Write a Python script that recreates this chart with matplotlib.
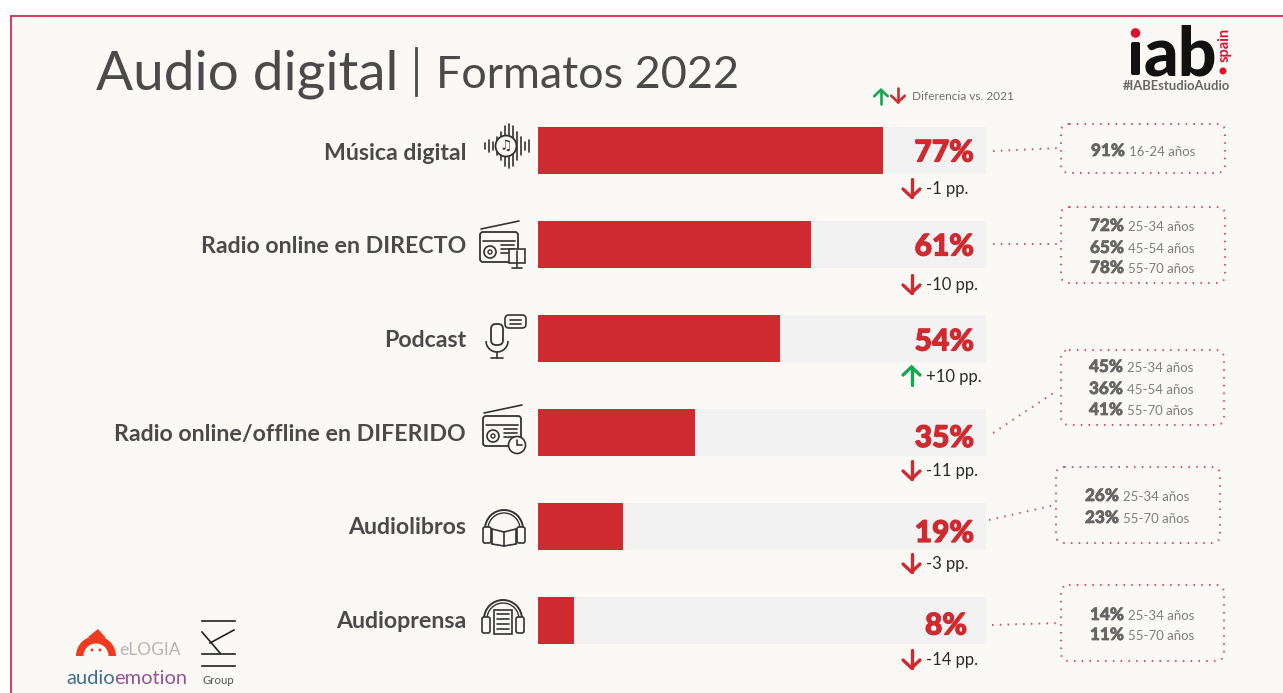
import matplotlib
matplotlib.use("Agg")
import matplotlib.pyplot as plt
import matplotlib.patheffects as pe
from matplotlib.patches import Rectangle, FancyBboxPatch, Circle, Polygon, Wedge, Arc

categories = ["Música digital", "Radio online en DIRECTO", "Podcast",
              "Radio online/offline en DIFERIDO", "Audiolibros", "Audioprensa"]
values = [77, 61, 54, 35, 19, 8]
deltas = [-1, -10, 10, -11, -3, -14]
age_values = [[91], [72, 65, 78], [45, 36, 41], [26, 23], [14, 11]]
age_labels = [["16-24 años"], ["25-34 años", "45-54 años", "55-70 años"],
              ["25-34 años", "45-54 años", "55-70 años"],
              ["25-34 años", "55-70 años"], ["25-34 años", "55-70 años"]]

W, H = 1283, 693
RED = "#CE2A30"
GREEN = "#12A84F"
TRACK = "#F2F2F3"
BG = "#FBF9F6"
PINK = "#DC4A68"
GREY = "#6F6F6F"
DARK = "#4A4A4A"
FONT = "Lato"
plt.rcParams["font.family"] = [FONT, "DejaVu Sans"]

fig = plt.figure(figsize=(W / 100, H / 100), dpi=100, facecolor="white")

ov = fig.add_axes([0, 0, 1, 1], zorder=1)
ov.set_xlim(0, W); ov.set_ylim(H, 0); ov.axis("off")
ov.add_patch(Rectangle((10.5, 15.5), W, H, fc=BG, ec="#D9274F", lw=1.3))

ax = fig.add_axes([538 / W, (H - 667.5) / H, 448 / W, 564 / H], zorder=2)
ax.patch.set_alpha(0)
ax.set_xlim(0, 100); ax.set_ylim(5.5, -0.5); ax.axis("off")
ypos = list(range(len(categories)))
ax.barh(ypos, [100] * len(values), height=0.5, color=TRACK)
ax.barh(ypos, values, height=0.5, color=RED)

top = fig.add_axes([0, 0, 1, 1], zorder=3)
top.patch.set_alpha(0)
top.set_xlim(0, W); top.set_ylim(H, 0); top.axis("off")
t = top.text

t(96, 74, "Audio digital", fontsize=39.5, color=DARK, weight="normal", va="center", ha="left")
top.plot([415.5, 415.5], [48, 95], color=DARK, lw=2.0)
t(436, 76, "Formatos 2022", fontsize=32.3, color=DARK, weight="normal", va="center", ha="left")

label_y = [153.5, 246.5, 340.5, 434.5, 527.5, 621.5]
pct_y = [152.5, 246.5, 341.5, 438, 533, 625.5]
pct_right = [974, 974, 974, 974, 974, 967]
delta_y = [188, 284, 376, 470, 563, 659]


def arrow(x, y, up, color, s=1.0, lw=2.4):
    d = -1 if up else 1
    top.plot([x, x], [y - d * 9 * s, y + d * 9 * s], color=color, lw=lw, solid_capstyle="round")
    top.plot([x - 8.5 * s, x, x + 8.5 * s], [y + d * 1 * s, y + d * 9 * s, y + d * 1 * s],
             color=color, lw=lw, solid_capstyle="round", solid_joinstyle="miter")


heavy = [pe.withStroke(linewidth=0.9, foreground=RED)]
for i, c in enumerate(categories):
    t(466, label_y[i], c, fontsize=16.7, weight="bold", color=DARK, ha="right", va="center")
    t(pct_right[i], pct_y[i], f"{values[i]}%", fontsize=21.5, weight="black", color=RED,
      ha="right", va="center", path_effects=heavy)
    arrow(911.5, delta_y[i], deltas[i] > 0, GREEN if deltas[i] > 0 else RED)
    t(926, delta_y[i] + 1, f"{deltas[i]:+d} pp.", fontsize=12, color="#2B2B2B", ha="left", va="center")

arrow(881, 97, True, GREEN, s=0.8, lw=1.9)
arrow(898, 95, False, RED, s=0.8, lw=1.9)
t(912, 96, "Diferencia vs. 2021", fontsize=8.6, color=GREY, ha="left", va="center")

boxes = [(1061, 124, 164, 49), (1061, 207, 164, 76), (1061, 350, 163, 75),
         (1056, 467, 164, 76), (1061, 585, 163, 76)]
links = [((993, 151), (1060, 148)), ((993, 244), (1060, 244)), ((993, 433), (1058, 390)),
         ((989, 520), (1055, 505)), ((992, 625), (1060, 623))]
text_x = [1091, 1090, 1089, 1085, 1090]
text_y = [[151], [226, 248, 268], [367, 389, 410], [496, 518], [615, 635]]
grey_heavy = [pe.withStroke(linewidth=0.5, foreground="#666666")]
for b, lk, vals, labs, tx, tys in zip(boxes, links, age_values, age_labels, text_x, text_y):
    x, y, w, h = b
    top.add_patch(FancyBboxPatch((x + 8, y + 8), w - 16, h - 16,
                                 boxstyle="round,pad=8,rounding_size=8", fc="none", ec=PINK,
                                 lw=1.4, ls=(0, (0.8, 3.2))))
    top.plot([lk[0][0], lk[1][0]], [lk[0][1], lk[1][1]], color=PINK, lw=1.4,
             ls=(0, (0.8, 3.2)))
    for v, l, yy in zip(vals, labs, tys):
        t(tx, yy, f"{v}%", fontsize=12.3, weight="black", color="#666666", ha="left", va="center",
          path_effects=grey_heavy)
        t(tx + 38, yy + 1, l, fontsize=9.5, color="#7E7E7E", ha="left", va="center")

# iab logo
LOGO_BLACK = "#111111"
t(1144, 75, "ab", fontsize=49, weight="black", color=LOGO_BLACK, ha="left", va="baseline")
top.add_patch(Circle((1135.5, 33), 4.8, fc="#E0102F", ec="none"))
top.add_patch(FancyBboxPatch((1133, 44), 5, 29, boxstyle="round,pad=2,rounding_size=2",
                             fc=LOGO_BLACK, ec="none"))
t(1225, 45, "spain", fontsize=10.5, weight="bold", color="#E0102F", rotation=90, ha="center", va="center")
top.add_patch(Circle((1223, 71), 3.5, fc="#E0102F", ec="none"))
t(1176, 86, "#IABEstudioAudio", fontsize=9.4, weight="bold", color="#666666", ha="center", va="center")

ic = dict(color="#333333", lw=1.2, solid_capstyle="round")


def icon_music(cx, cy):
    for dx, hh in zip(range(-22, 23, 4), [3, 6, 4, 9, 14, 20, 22, 20, 14, 9, 4, 6]):
        top.plot([cx + dx + 2, cx + dx + 2], [cy - hh, cy + hh], **ic)
    top.add_patch(Circle((cx + 1, cy), 10.5, fc=BG, ec="#333333", lw=1.3, zorder=4))
    top.text(cx + 1, cy, "♫", fontsize=10, color="#333333", ha="center", va="center",
             family="DejaVu Sans", zorder=5)


def icon_radio(cx, cy, clock=False):
    top.add_patch(FancyBboxPatch((cx - 18, cy - 13), 36, 28, boxstyle="round,pad=1,rounding_size=3",
                                 fc="none", ec="#333333", lw=1.3))
    top.plot([cx - 18, cx + 20], [cy - 17, cy - 25], **ic)
    top.add_patch(Circle((cx - 9, cy + 6), 6, fc="none", ec="#333333", lw=1.2))
    top.add_patch(Circle((cx - 9, cy + 6), 2, fc="none", ec="#333333", lw=1.0))
    top.plot([cx - 16, cx + 16], [cy - 5, cy - 5], **ic)
    for k in range(3):
        top.plot([cx + 2, cx + 15], [cy - 1 + k * 4, cy - 1 + k * 4], **ic)
    if clock:
        top.add_patch(Circle((cx + 15, cy + 15), 8.5, fc=BG, ec="#333333", lw=1.2, zorder=4))
        top.plot([cx + 15, cx + 15, cx + 20], [cy + 10, cy + 15, cy + 15], zorder=5, **ic)
    else:
        top.add_patch(Rectangle((cx + 10, cy + 3), 16, 14, fc=BG, ec="#333333", lw=1.2, zorder=4))
        top.plot([cx + 18, cx + 18], [cy + 5, cy + 21], zorder=5, **ic)
        top.plot([cx + 13, cx + 23], [cy + 22, cy + 22], zorder=5, **ic)


def icon_mic(cx, cy):
    top.add_patch(FancyBboxPatch((cx - 10, cy - 11), 8, 17, boxstyle="round,pad=2,rounding_size=5",
                                 fc="none", ec="#333333", lw=1.3))
    top.add_patch(Arc((cx - 6, cy + 4), 22, 22, theta1=0, theta2=180, ec="#333333", lw=1.2))
    top.plot([cx - 6, cx - 6], [cy + 15, cy + 21], **ic)
    top.plot([cx - 12, cx], [cy + 21, cy + 21], **ic)
    top.add_patch(FancyBboxPatch((cx + 3, cy - 21), 19, 11, boxstyle="round,pad=1,rounding_size=4",
                                 fc=BG, ec="#333333", lw=1.2))
    top.plot([cx + 7, cx + 18], [cy - 17, cy - 17], **ic)
    top.plot([cx + 7, cx + 18], [cy - 13, cy - 13], **ic)


def icon_headphones(cx, cy, news=False):
    top.add_patch(Arc((cx, cy + 2), 38, 38, theta1=180, theta2=360, ec="#333333", lw=1.4))
    top.add_patch(Arc((cx, cy + 2), 32, 32, theta1=180, theta2=360, ec="#333333", lw=1.0))
    top.add_patch(FancyBboxPatch((cx - 20, cy + 1), 6, 14, boxstyle="round,pad=1,rounding_size=2",
                                 fc=BG, ec="#333333", lw=1.2, zorder=4))
    top.add_patch(FancyBboxPatch((cx + 14, cy + 1), 6, 14, boxstyle="round,pad=1,rounding_size=2",
                                 fc=BG, ec="#333333", lw=1.2, zorder=4))
    if news:
        top.add_patch(Rectangle((cx - 9, cy - 7), 18, 24, fc=BG, ec="#333333", lw=1.2))
        for k in range(4):
            top.plot([cx - 6, cx + 6], [cy - 3 + k * 5, cy - 3 + k * 5], **ic)
    else:
        top.plot([cx - 12, cx, cx + 12], [cy + 2, cy + 5, cy + 2], **ic)
        top.plot([cx - 12, cx, cx + 12], [cy + 17, cy + 19, cy + 17], **ic)
        top.plot([cx, cx], [cy + 5, cy + 19], **ic)
        top.plot([cx - 12, cx - 12], [cy + 2, cy + 17], **ic)
        top.plot([cx + 12, cx + 12], [cy + 2, cy + 17], **ic)


icon_music(505, 146)
icon_radio(499, 246)
icon_mic(503, 337)
icon_radio(502, 430, clock=True)
icon_headphones(504, 527)
icon_headphones(503, 617, news=True)

# partner logos
top.add_patch(Wedge((96, 656), 20, 180, 360, fc="#F03B20", ec="none"))
top.add_patch(Polygon([[88, 637], [98, 629], [106, 638]], fc="#F03B20", ec="none"))
top.add_patch(Wedge((96, 656), 12.5, 180, 360, fc=BG, ec="none"))
top.add_patch(Circle((92, 650), 1.5, fc="#F03B20", ec="none"))
top.add_patch(Circle((100, 650), 1.5, fc="#F03B20", ec="none"))
t(119, 650, "eLOGIA", fontsize=12.5, color="#B5B5B5", ha="left", va="center")
t(66, 678, "audio", fontsize=14.5, color="#3F6E94", ha="left", va="center")
t(114, 678, "emotion", fontsize=14.5, color="#94539A", ha="left", va="center")
for yy in [621, 654, 666]:
    top.plot([202, 235], [yy, yy], color="#222222", lw=1.2)
top.plot([202, 220], [632, 653], color="#222222", lw=1.2)
top.plot([234, 210], [630, 643], color="#222222", lw=1.2)
t(218, 681, "Group", fontsize=8.2, color="#555555", ha="center", va="center")

fig.savefig("out.png", dpi=100, facecolor="white")
